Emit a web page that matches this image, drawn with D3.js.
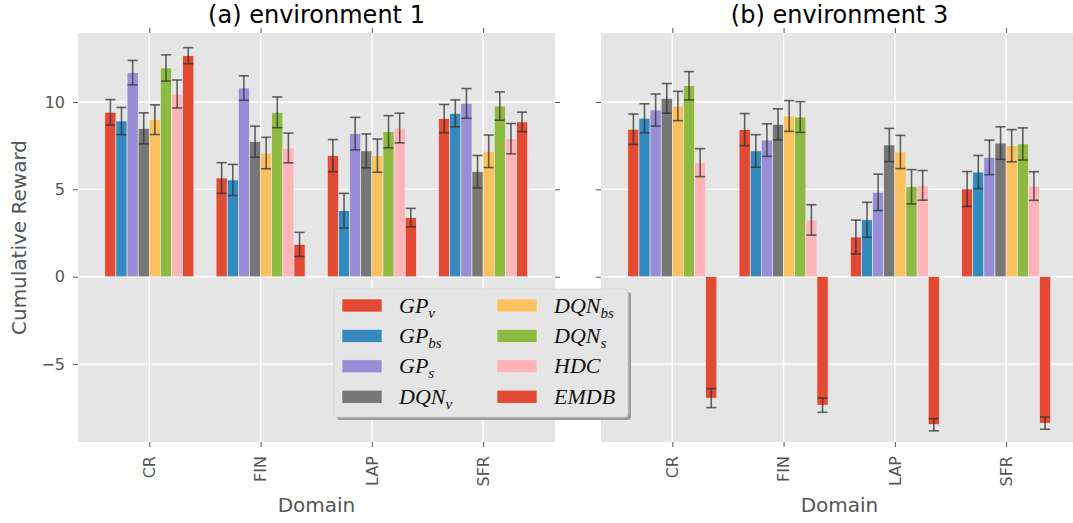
<!DOCTYPE html>
<html>
<head>
<meta charset="utf-8">
<script src="https://cdn.jsdelivr.net/npm/d3@7"></script>
<style>
    body { margin: 0; background: #fff; }
    svg { display: block; overflow: hidden; }
</style>
</head>
<body>
<svg id="chart"></svg>
<script>
// domains on the x axis
var categories = ["CR", "FIN", "LAP", "SFR"];
// legend names, split as base + subscript
var methods = ["GP_v", "GP_bs", "GP_s", "DQN_v", "DQN_bs", "DQN_s", "HDC", "EMDB"];
var colors = ["#E24A33", "#348ABD", "#988ED5", "#777777", "#FBC15E", "#8EBA42", "#FFB5B8", "#E24A33"];
var yTicks = [-5, 0, 5, 10];
var titles = ["(a) environment 1", "(b) environment 3"];

// environment 1, one row per method, one value per domain
var env1Mean = [
    [9.41, 5.65, 6.93, 9.05],
    [8.91, 5.54, 3.78, 9.35],
    [11.68, 10.80, 8.19, 9.92],
    [8.49, 7.73, 7.20, 6.01],
    [8.99, 7.08, 6.93, 7.18],
    [11.95, 9.41, 8.30, 9.77],
    [10.46, 7.37, 8.51, 7.90],
    [12.65, 1.85, 3.38, 8.86]
];
var env1Err = [
    [0.73, 0.88, 0.92, 0.81],
    [0.78, 0.89, 0.99, 0.77],
    [0.70, 0.70, 0.93, 0.85],
    [0.89, 0.89, 0.97, 0.93],
    [0.85, 0.90, 0.95, 0.93],
    [0.75, 0.88, 0.92, 0.81],
    [0.80, 0.85, 0.85, 0.87],
    [0.46, 0.69, 0.53, 0.56]
];

// environment 3
var env3Mean = [
    [8.44, 8.42, 2.27, 5.02],
    [9.07, 7.20, 3.26, 5.99],
    [9.54, 7.82, 4.83, 6.83],
    [10.21, 8.72, 7.54, 7.65],
    [9.77, 9.20, 7.14, 7.50],
    [10.93, 9.14, 5.15, 7.60],
    [6.53, 3.25, 5.23, 5.19],
    [-6.95, -7.35, -8.47, -8.38]
];
var env3Err = [
    [0.87, 0.92, 0.97, 1.00],
    [0.83, 0.93, 1.00, 0.95],
    [0.92, 0.93, 1.04, 0.99],
    [0.85, 0.89, 0.95, 0.93],
    [0.84, 0.88, 0.95, 0.92],
    [0.81, 0.88, 0.98, 0.92],
    [0.80, 0.87, 0.85, 0.82],
    [0.54, 0.41, 0.35, 0.35]
];

var svgW = 1073, svgH = 523;
var panel = { top: 33, height: 409, width: 477 };
var panelLefts = [78, 601];
var barW = 0.1;
var tickLen = 5;
var labelColor = "#555555";

var svg = d3.select("#chart").attr("width", svgW).attr("height", svgH);

var xScale = d3.scaleLinear().domain([-0.641, 3.646]).range([0, panel.width]);
var yScale = d3.scaleLinear().domain([-9.46, 13.95]).range([panel.height, 0]);

var drawPanel = function (idx, means, errs) {
    var g = svg.append("g").attr("transform", `translate(${panelLefts[idx]},${panel.top})`);

    g.append("rect")
        .attr("width", panel.width)
        .attr("height", panel.height)
        .attr("fill", "#E5E5E5");

    // grid
    g.selectAll(".hgrid").data(yTicks).enter().append("line")
        .attr("x1", 0).attr("x2", panel.width)
        .attr("y1", yScale).attr("y2", yScale)
        .attr("stroke", "#fff").attr("stroke-width", 1.4);
    g.selectAll(".vgrid").data(d3.range(categories.length)).enter().append("line")
        .attr("x1", xScale).attr("x2", xScale)
        .attr("y1", 0).attr("y2", panel.height)
        .attr("stroke", "#fff").attr("stroke-width", 1.4);

    // axes, ticks outside on every side
    var xTickFmt = function (i) { return categories[i]; };
    var bottomAxis = d3.axisBottom(xScale).tickValues(d3.range(categories.length))
        .tickFormat(xTickFmt).tickSizeInner(tickLen).tickSizeOuter(0).tickPadding(4);
    var xAxisG = g.append("g").attr("transform", `translate(0,${panel.height})`).call(bottomAxis);
    xAxisG.selectAll("text")
        .attr("transform", "rotate(-90)")
        .attr("text-anchor", "end")
        .attr("x", -(tickLen + 9))
        .attr("y", 0)
        .attr("dy", "0.33em");

    var topAxis = d3.axisTop(xScale).tickValues(d3.range(categories.length))
        .tickFormat("").tickSizeInner(tickLen).tickSizeOuter(0);
    g.append("g").call(topAxis);

    var leftAxis = d3.axisLeft(yScale).tickValues(yTicks)
        .tickFormat(idx == 0 ? function (v) { return v < 0 ? "\u2212" + (-v) : v; } : "")
        .tickSizeInner(tickLen).tickSizeOuter(0).tickPadding(8);
    g.append("g").call(leftAxis);
    var rightAxis = d3.axisRight(yScale).tickValues(yTicks)
        .tickFormat("").tickSizeInner(tickLen).tickSizeOuter(0);
    g.append("g").attr("transform", `translate(${panel.width},0)`).call(rightAxis);

    g.selectAll(".domain").remove();
    g.selectAll(".tick line").attr("stroke", labelColor);
    g.selectAll(".tick text")
        .attr("fill", labelColor)
        .attr("font-family", "DejaVu Sans")
        .attr("font-size", 16);

    // bars
    methods.forEach(function (m, mi) {
        var rows = categories.map(function (c, ci) {
            return { cat: ci, value: means[mi][ci], err: errs[mi][ci] };
        });
        var off = (mi - (methods.length - 1) / 2) * barW;
        var mg = g.append("g").attr("class", "method");
        mg.selectAll("rect").data(rows).enter().append("rect")
            .attr("x", function (d) { return xScale(d.cat + off - barW / 2); })
            .attr("width", xScale(barW) - xScale(0))
            .attr("y", function (d) { return yScale(Math.max(0, d.value)); })
            .attr("height", function (d) { return Math.abs(yScale(d.value) - yScale(0)); })
            .attr("fill", colors[mi])
            .attr("stroke", "#EEEEEE")
            .attr("stroke-width", 0.6);

        var capHalf = (xScale(barW) - xScale(0)) / 2 - 0.5;
        var eg = mg.selectAll(".err").data(rows).enter().append("g")
            .attr("stroke", "#333")
            .attr("stroke-opacity", 0.75)
            .attr("stroke-width", 1.6);
        eg.append("line")
            .attr("x1", function (d) { return xScale(d.cat + off); })
            .attr("x2", function (d) { return xScale(d.cat + off); })
            .attr("y1", function (d) { return yScale(d.value + d.err); })
            .attr("y2", function (d) { return yScale(d.value - d.err); });
        [1, -1].forEach(function (s) {
            eg.append("line")
                .attr("x1", function (d) { return xScale(d.cat + off) - capHalf; })
                .attr("x2", function (d) { return xScale(d.cat + off) + capHalf; })
                .attr("y1", function (d) { return yScale(d.value + s * d.err); })
                .attr("y2", function (d) { return yScale(d.value + s * d.err); });
        });
    });

    // title and x label
    svg.append("text")
        .attr("x", panelLefts[idx] + panel.width / 2)
        .attr("y", 23)
        .attr("text-anchor", "middle")
        .attr("font-family", "DejaVu Sans")
        .attr("font-size", 24)
        .attr("fill", "#000")
        .text(titles[idx]);
    svg.append("text")
        .attr("x", panelLefts[idx] + panel.width / 2)
        .attr("y", 512)
        .attr("text-anchor", "middle")
        .attr("font-family", "DejaVu Sans")
        .attr("font-size", 20)
        .attr("fill", labelColor)
        .text("Domain");
};

drawPanel(0, env1Mean, env1Err);
drawPanel(1, env3Mean, env3Err);

svg.append("text")
    .attr("transform", `translate(26,${panel.top + panel.height / 2}) rotate(-90)`)
    .attr("text-anchor", "middle")
    .attr("font-family", "DejaVu Sans")
    .attr("font-size", 20)
    .attr("fill", labelColor)
    .text("Cumulative Reward");

// legend
var legend = { x: 334, y: 289, w: 294, h: 128 };
var legendG = svg.append("g").attr("transform", `translate(${legend.x},${legend.y})`);
legendG.append("rect")
    .attr("x", 3).attr("y", 3)
    .attr("width", legend.w).attr("height", legend.h)
    .attr("rx", 3)
    .attr("fill", "#9a9a9a");
legendG.append("rect")
    .attr("width", legend.w).attr("height", legend.h)
    .attr("rx", 3)
    .attr("fill", "#E5E5E5")
    .attr("stroke", "#d6d6d6")
    .attr("stroke-width", 1);

var itemG = legendG.selectAll(".item").data(methods).enter().append("g")
    .attr("transform", function (d, i) {
        var col = Math.floor(i / 4), row = i % 4;
        return `translate(${8 + col * 155},${16.5 + row * 30.4})`;
    });
itemG.append("rect")
    .attr("x", 0).attr("y", -6.5)
    .attr("width", 40).attr("height", 13)
    .attr("fill", function (d, i) { return colors[i]; })
    .attr("stroke", "#EEEEEE")
    .attr("stroke-width", 0.6);
var labelText = itemG.append("text")
    .attr("x", 57 - 0)
    .attr("y", 7)
    .attr("font-family", "Liberation Serif")
    .attr("font-style", "italic")
    .attr("font-size", 22)
    .attr("fill", "#111");
labelText.append("tspan").text(function (d) { return d.split("_")[0]; });
labelText.append("tspan")
    .attr("font-size", 15)
    .attr("dy", 5)
    .text(function (d) { return d.split("_")[1] || ""; });
</script>
</body>
</html>
